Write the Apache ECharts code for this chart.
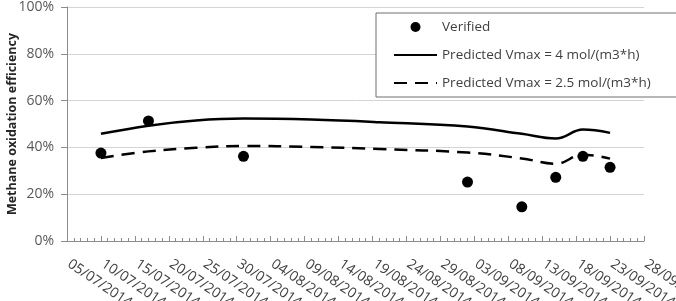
<!DOCTYPE html>
<html>
<head>
<meta charset="utf-8">
<script src="https://cdn.jsdelivr.net/npm/echarts@6/dist/echarts.min.js"></script>
<style>
  html, body { margin: 0; padding: 0; background: #fff; }
  #chart { width: 676px; height: 301px; }
</style>
</head>
<body>
<div id="chart"></div>
<script>
// measured points
var verifiedDates = ['10/07/2014', '17/07/2014', '31/07/2014', '02/09/2014', '10/09/2014', '15/09/2014', '19/09/2014', '23/09/2014'];
var verifiedValues = [37.6, 51.3, 36.2, 25.2, 14.6, 27.2, 36.2, 31.5];

// model curves
var predDates = ['10/07/2014', '17/07/2014', '24/07/2014', '31/07/2014', '10/08/2014', '20/08/2014', '02/09/2014', '10/09/2014', '15/09/2014', '19/09/2014', '23/09/2014'];
var pred4 = [45.8, 49.3, 51.5, 52.3, 51.9, 50.8, 48.9, 45.8, 43.8, 47.6, 46.2];
var pred25 = [35.5, 38.3, 39.8, 40.6, 40.2, 39.3, 37.8, 35.3, 33.0, 36.9, 35.2];

var startDate = '05/07/2014';
var yTicks = [0, 20, 40, 60, 80, 100];

var DAY = 86400000;
function parseDate(s) {
    var p = s.split('/');
    return Date.UTC(+p[2], +p[1] - 1, +p[0]);
}
var t0 = parseDate(startDate);
function dayNum(s) { return Math.round((parseDate(s) - t0) / DAY); }
function pad(n) { return (n < 10 ? '0' : '') + n; }
function dayLabel(v) {
    var d = new Date(t0 + v * DAY);
    return pad(d.getUTCDate()) + '/' + pad(d.getUTCMonth() + 1) + '/' + d.getUTCFullYear();
}
function pairs(dates, vals) {
    return dates.map(function (d, i) { return [dayNum(d), vals[i]]; });
}

var font = 'Open Sans';
var noSymbol = { opacity: 0 };
var myChart = echarts.init(document.getElementById('chart'));
option = {
    backgroundColor: '#fff',
    animation: false,
    textStyle: { fontFamily: font },
    grid: { left: 67, right: 32, top: 7, bottom: 60, containLabel: false, outerBoundsMode: 'none' },
    legend: {
        orient: 'vertical',
        left: 376,
        top: 13,
        padding: [7, 30, 7, 17],
        itemWidth: 43,
        itemHeight: 10,
        itemGap: 14,
        backgroundColor: '#fff',
        borderColor: '#6e6e6e',
        borderWidth: 1,
        textStyle: { fontFamily: font, fontSize: 13.5, color: '#404040' },
        data: [
            { name: 'Verified' },
            { name: 'Predicted Vmax = 4 mol/(m3*h)', itemStyle: noSymbol },
            { name: 'Predicted Vmax = 2.5 mol/(m3*h)', itemStyle: noSymbol }
        ]
    },
    xAxis: {
        type: 'value',
        min: 0,
        max: 85,
        interval: 5,
        axisLine: { lineStyle: { color: '#8c8c8c', width: 1 } },
        axisTick: { inside: true, length: 5, lineStyle: { color: '#8c8c8c' } },
        minorTick: { show: true, splitNumber: 5, length: 3, lineStyle: { color: '#8c8c8c' } },
        splitLine: { show: false },
        axisLabel: {
            rotate: -34,
            margin: 12,
            verticalAlign: 'top',
            padding: [0, 0, 0, 7],
            fontSize: 14,
            color: '#404040',
            fontFamily: font,
            formatter: dayLabel
        }
    },
    yAxis: {
        type: 'value',
        min: yTicks[0],
        max: yTicks[yTicks.length - 1],
        interval: 20,
        name: 'Methane oxidation efficiency',
        nameLocation: 'middle',
        nameGap: 48,
        nameMoveOverlap: false,
        nameTextStyle: { fontFamily: font, fontSize: 12.5, fontWeight: 'bold', color: '#262626' },
        axisLine: { show: true, lineStyle: { color: '#8c8c8c' } },
        axisTick: { show: true, length: 6, lineStyle: { color: '#8c8c8c' } },
        splitLine: { lineStyle: { color: '#d4d4d4', width: 1 } },
        axisLabel: {
            fontSize: 14,
            color: '#595959',
            fontFamily: font,
            margin: 13,
            formatter: '{value}%'
        }
    },
    series: [
        {
            name: 'Verified',
            type: 'scatter',
            symbol: 'circle',
            symbolSize: 11,
            itemStyle: { color: '#000', opacity: 1 },
            data: pairs(verifiedDates, verifiedValues),
            z: 3
        },
        {
            name: 'Predicted Vmax = 4 mol/(m3*h)',
            type: 'line',
            smooth: 0.4,
            showSymbol: false,
            symbol: 'none',
            itemStyle: { color: '#000' },
            lineStyle: { color: '#000', width: 2.5 },
            data: pairs(predDates, pred4)
        },
        {
            name: 'Predicted Vmax = 2.5 mol/(m3*h)',
            type: 'line',
            smooth: 0.4,
            showSymbol: false,
            symbol: 'none',
            itemStyle: { color: '#000' },
            lineStyle: { color: '#000', width: 2.5, type: [13, 8] },
            data: pairs(predDates, pred25)
        }
    ]
};
myChart.setOption(option);
</script>
</body>
</html>
